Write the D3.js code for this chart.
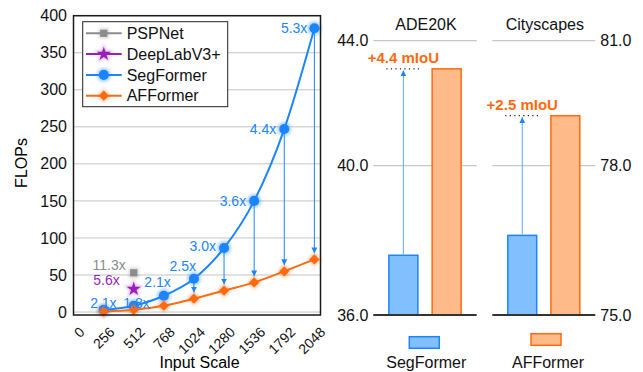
<!DOCTYPE html>
<html>
<head>
<meta charset="utf-8">
<script src="https://cdn.jsdelivr.net/npm/d3@7"></script>
<style>
  body { margin: 0; background: #fff; }
  svg { display: block; font-family: "Liberation Sans", Arial, sans-serif; }
</style>
</head>
<body>
<script>
// ---- data ----
var scales = [256, 512, 768, 1024, 1280, 1536, 1792, 2048];
var xTicks = [0, 256, 512, 768, 1024, 1280, 1536, 1792, 2048];
var yTicks = [0, 50, 100, 150, 200, 250, 300, 350, 400];
var segFlops = [3, 8.5, 22, 45, 86.5, 150, 247, 383];
var afFlops = [0.8, 3, 8.5, 18, 29, 40, 55, 71];
var ratioLabels = ["2.1x", "1.8x", "2.1x", "2.5x", "3.0x", "3.6x", "4.4x", "5.3x"];
var pspPoint = {x: 512, y: 53, label: "11.3x"};
var deeplabPoint = {x: 512, y: 31, label: "5.6x"};
var legendNames = ["PSPNet", "DeepLabV3+", "SegFormer", "AFFormer"];

var datasets = ["ADE20K", "Cityscapes"];
var models = ["SegFormer", "AFFormer"];
var miou = [[37.6, 43.1], [76.6, 79.2]];
var gainLabels = ["+4.4 mIoU", "+2.5 mIoU"];
var adeTicks = [36, 40, 44];
var cityTicks = [75, 78, 81];

// ---- styles ----
var blue = "#1a85ff", orange = "#ff6a10", gray = "#8c8c8c", purple = "#9a1fb8";
var lightBlue = "#82bfff", lightOrange = "#ffba8a";
var colors = {PSPNet: gray, "DeepLabV3+": purple, SegFormer: blue, AFFormer: orange};
// label offsets (dx to text end, dy to middle) for the ratio labels
var ratioOffsets = [[13, -7], [16, -3], [7, -14], [2, -13], [-8, -2], [-8, 0], [-8, 0], [-7, 0]];

var width = 643, height = 372;
var svg = d3.select("body").append("svg")
    .attr("width", width)
    .attr("height", height);

var defs = svg.append("defs");
defs.append("filter").attr("id", "glow")
    .attr("x", "-100%").attr("y", "-100%").attr("width", "300%").attr("height", "300%")
  .append("feGaussianBlur").attr("stdDeviation", 1.4);
defs.append("marker").attr("id", "arrowL")
    .attr("viewBox", "0 0 10 10").attr("refX", 10).attr("refY", 5)
    .attr("markerWidth", 6).attr("markerHeight", 8).attr("markerUnits", "userSpaceOnUse")
    .attr("orient", "auto")
  .append("path").attr("d", "M0,0L10,5L0,10Z").attr("fill", blue);

// ================= left: FLOPs line chart =================
var x = d3.scaleLinear().domain([0, 2100]).range([73.5, 320.5]);
var y = d3.scaleLinear().domain([-4, 400]).range([315, 15.7]);

var left = svg.append("g");

left.selectAll(".grid")
    .data(yTicks)
    .enter()
    .append("line")
    .attr("x1", x.range()[0]).attr("x2", x.range()[1])
    .attr("y1", function(d){ return y(d); })
    .attr("y2", function(d){ return y(d); })
    .attr("stroke", "#c4c4c4").attr("stroke-width", 1);

left.selectAll(".ytick")
    .data(yTicks)
    .enter()
    .append("text")
    .attr("x", 67)
    .attr("y", function(d){ return y(d); })
    .attr("dy", "0.35em")
    .attr("text-anchor", "end")
    .attr("font-size", 16)
    .attr("fill", "#111")
    .text(function(d){ return d; });

left.selectAll(".xtick")
    .data(xTicks)
    .enter()
    .append("text")
    .attr("transform", function(d){ return "translate(" + (x(d) + 12) + ",333) rotate(-45)"; })
    .attr("text-anchor", "end")
    .attr("font-size", 14)
    .attr("fill", "#111")
    .text(function(d){ return d; });

left.append("text")
    .attr("x", 199.5).attr("y", 368)
    .attr("text-anchor", "middle")
    .attr("font-size", 16)
    .text("Input Scale");

left.append("text")
    .attr("transform", "translate(27,163) rotate(-90)")
    .attr("text-anchor", "middle")
    .attr("font-size", 16)
    .text("FLOPs");

// arrows from SegFormer down to AFFormer
left.selectAll(".drop")
    .data(scales.slice(3))
    .enter()
    .append("line")
    .attr("x1", function(d){ return x(d); })
    .attr("x2", function(d){ return x(d); })
    .attr("y1", function(d, i){ return y(segFlops[i + 3]); })
    .attr("y2", function(d, i){ return y(afFlops[i + 3]) - 6; })
    .attr("stroke", blue).attr("stroke-width", 1)
    .attr("marker-end", "url(#arrowL)");

var line = d3.line()
    .x(function(d){ return x(d[0]); })
    .y(function(d){ return y(d[1]); })
    .curve(d3.curveMonotoneX);

left.append("path")
    .datum(d3.zip(scales, segFlops))
    .attr("d", line)
    .attr("fill", "none").attr("stroke", blue).attr("stroke-width", 2);

left.append("path")
    .datum(d3.zip(scales, afFlops))
    .attr("d", line)
    .attr("fill", "none").attr("stroke", orange).attr("stroke-width", 2);

function symbolFor(name){
    if (name === "PSPNet") return {type: d3.symbolSquare, size: 52, rot: 0};
    if (name === "DeepLabV3+") return {type: d3.symbolStar, size: 62, rot: 0};
    if (name === "SegFormer") return {type: d3.symbolCircle, size: 80, rot: 0};
    return {type: d3.symbolSquare, size: 52, rot: 45};
}

function drawMarker(g, name, cx, cy){
    var s = symbolFor(name);
    var tr = "translate(" + cx + "," + cy + ") rotate(" + s.rot + ")";
    g.append("path").attr("d", d3.symbol().type(s.type).size(s.size * 2)())
        .attr("transform", tr)
        .attr("fill", colors[name]).attr("opacity", 0.35)
        .attr("filter", "url(#glow)");
    g.append("path").attr("d", d3.symbol().type(s.type).size(s.size)())
        .attr("transform", tr)
        .attr("fill", colors[name]);
}

scales.forEach(function(s, i){ drawMarker(left, "SegFormer", x(s), y(segFlops[i])); });
scales.forEach(function(s, i){ drawMarker(left, "AFFormer", x(s), y(afFlops[i])); });
drawMarker(left, "PSPNet", x(pspPoint.x), y(pspPoint.y));
drawMarker(left, "DeepLabV3+", x(deeplabPoint.x), y(deeplabPoint.y));

left.selectAll(".ratio")
    .data(ratioLabels)
    .enter()
    .append("text")
    .attr("x", function(d, i){ return x(scales[i]) + ratioOffsets[i][0]; })
    .attr("y", function(d, i){ return y(segFlops[i]) + ratioOffsets[i][1]; })
    .attr("dy", "0.35em")
    .attr("text-anchor", "end")
    .attr("font-size", 14)
    .attr("fill", blue)
    .text(function(d){ return d; });

left.append("text")
    .attr("x", x(pspPoint.x) - 8).attr("y", y(pspPoint.y) - 8)
    .attr("dy", "0.35em").attr("text-anchor", "end")
    .attr("font-size", 14).attr("fill", gray)
    .text(pspPoint.label);

left.append("text")
    .attr("x", x(deeplabPoint.x) - 14).attr("y", y(deeplabPoint.y) - 8.6)
    .attr("dy", "0.35em").attr("text-anchor", "end")
    .attr("font-size", 14).attr("fill", purple)
    .text(deeplabPoint.label);

// frame
left.append("rect")
    .attr("x", x.range()[0]).attr("y", y.range()[1])
    .attr("width", x.range()[1] - x.range()[0])
    .attr("height", y.range()[0] - y.range()[1])
    .attr("fill", "none").attr("stroke", "#1a1a1a").attr("stroke-width", 1.5);

// legend
var legend = left.append("g");
legend.append("rect")
    .attr("x", 82.7).attr("y", 21.7).attr("width", 145).attr("height", 85)
    .attr("fill", "#fff").attr("stroke", "#222").attr("stroke-width", 1);
legendNames.forEach(function(name, i){
    var ly = 33.3 + i * 20.8;
    legend.append("line")
        .attr("x1", 86).attr("x2", 121.7).attr("y1", ly).attr("y2", ly)
        .attr("stroke", colors[name]).attr("stroke-width", 2);
    drawMarker(legend, name, 103.8, ly);
    legend.append("text")
        .attr("x", 126.7).attr("y", ly).attr("dy", "0.35em")
        .attr("font-size", 16).attr("fill", "#111")
        .text(name);
});

// ================= right: mIoU bars =================
var yAde = d3.scaleLinear().domain(adeTicks).range([315, 165.7, 40.7]);
var yCity = d3.scaleLinear().domain(cityTicks).range([315, 165.7, 40.7]);
var panelScales = [yAde, yCity];
var panelTicks = [adeTicks, cityTicks];
var panelRanges = [[373.3, 476.7], [492.3, 595.3]];

datasets.forEach(function(name, p){
    var g = svg.append("g");
    var yp = panelScales[p];
    var r = panelRanges[p];
    var xb = d3.scaleBand().domain(models).range(r).paddingInner(0.33).paddingOuter(0.36);

    g.selectAll(".grid")
        .data(panelTicks[p].slice(1))
        .enter()
        .append("line")
        .attr("x1", r[0]).attr("x2", r[1])
        .attr("y1", function(d){ return yp(d); })
        .attr("y2", function(d){ return yp(d); })
        .attr("stroke", "#c8c8c8").attr("stroke-width", 1.2);

    g.append("text")
        .attr("x", (r[0] + r[1]) / 2 + 1).attr("y", 30)
        .attr("text-anchor", "middle").attr("font-size", 16).attr("fill", "#111")
        .text(name);

    g.selectAll(".tick")
        .data(panelTicks[p])
        .enter()
        .append("text")
        .attr("x", p === 0 ? r[0] - 5 : r[1] + 5)
        .attr("y", function(d){ return yp(d); })
        .attr("dy", "0.35em")
        .attr("text-anchor", p === 0 ? "end" : "start")
        .attr("font-size", 16).attr("fill", "#111")
        .text(function(d){ return d.toFixed(1); });

    g.selectAll(".bar")
        .data(models)
        .enter()
        .append("rect")
        .attr("x", function(d){ return xb(d); })
        .attr("width", xb.bandwidth())
        .attr("y", function(d, i){ return yp(miou[p][i]); })
        .attr("height", function(d, i){ return yp(panelTicks[p][0]) - yp(miou[p][i]); })
        .attr("fill", function(d, i){ return i === 0 ? lightBlue : lightOrange; })
        .attr("stroke", function(d, i){ return i === 0 ? blue : orange; })
        .attr("stroke-width", 1.5);

    g.append("line")
        .attr("x1", r[0]).attr("x2", r[1])
        .attr("y1", yp(panelTicks[p][0])).attr("y2", yp(panelTicks[p][0]))
        .attr("stroke", "#333").attr("stroke-width", 2);

    var cx = xb("SegFormer") + xb.bandwidth() / 2;
    var topY = yp(miou[p][1]);
    g.append("line")
        .attr("x1", cx).attr("x2", cx)
        .attr("y1", yp(miou[p][0]) - 1).attr("y2", topY + 1.5)
        .attr("stroke", "#5aabff").attr("stroke-width", 1)
        .attr("marker-end", "url(#arrowL)");
    g.append("line")
        .attr("x1", cx - 17).attr("x2", cx + 17)
        .attr("y1", topY).attr("y2", topY)
        .attr("stroke", "#222").attr("stroke-width", 1.2)
        .attr("stroke-dasharray", "1.2,3.3");
    g.append("text")
        .attr("x", cx).attr("y", topY - 11).attr("dy", "0.35em")
        .attr("text-anchor", "middle")
        .attr("font-size", 15).attr("font-weight", "bold").attr("fill", orange)
        .text(gainLabels[p]);
});

// bottom legend
var legendX = [424.3, 546];
models.forEach(function(m, i){
    svg.append("rect")
        .attr("x", legendX[i] - 15).attr("y", i === 0 ? 336.7 : 333.7)
        .attr("width", 30).attr("height", 11.6)
        .attr("fill", i === 0 ? lightBlue : lightOrange)
        .attr("stroke", i === 0 ? blue : orange).attr("stroke-width", 1.5);
    svg.append("text")
        .attr("x", legendX[i] + 2).attr("y", 362.7).attr("dy", "0.35em")
        .attr("text-anchor", "middle").attr("font-size", 16).attr("fill", "#111")
        .text(m);
});
</script>
</body>
</html>
